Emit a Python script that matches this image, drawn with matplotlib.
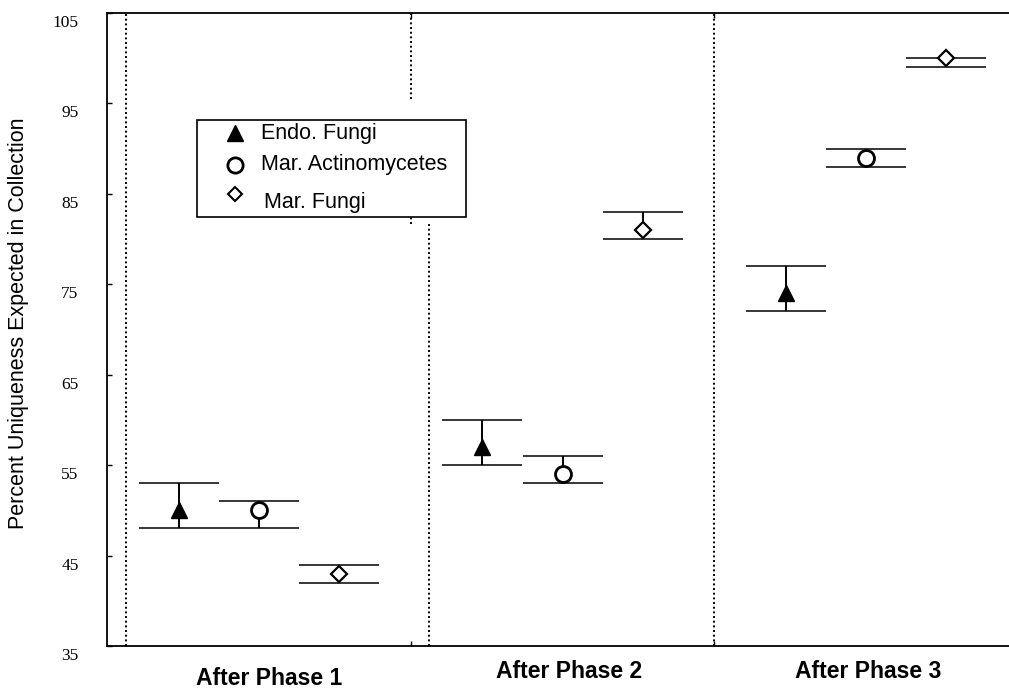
import numpy as np
import matplotlib
matplotlib.use("Agg")
import matplotlib.pyplot as plt
from matplotlib.patches import Rectangle
from matplotlib.transforms import ScaledTranslation

# values (percent uniqueness)
phases = [1, 2, 3]
phase_labels = ["After Phase 1", "After Phase 2", "After Phase 3"]

endo_mean = [50, 57, 74]
endo_low = [48, 55, 72]
endo_high = [53, 60, 77]

act_mean = [50, 54, 89]
act_low = [48, 53, 88]
act_high = [51, 56, 90]

mfun_mean = [43, 81, 100]
mfun_low = [42, 80, 99]
mfun_high = [44, 83, 100]

series_names = ["Endo. Fungi", "Mar. Actinomycetes", "Mar. Fungi"]
yticks = [35, 45, 55, 65, 75, 85, 95, 105]

plt.rcParams['font.family'] = ['Liberation Sans', 'DejaVu Sans']


def draw_series(ax, xs, mean, low, high, marker, ms, mfc, mew):
    mean = np.array(mean)
    yerr = [mean - np.array(low), np.array(high) - mean]
    ax.errorbar(xs, mean, yerr=yerr, fmt='none', ecolor='black',
                elinewidth=1.4, capsize=29, capthick=1.1, zorder=2)
    ax.plot(xs, mean, linestyle='none', marker=marker, markersize=ms,
            markerfacecolor=mfc, markeredgecolor='black',
            markeredgewidth=mew, zorder=3)


def main():
    fig = plt.figure(figsize=(10.09, 6.91), dpi=100)
    ax = fig.add_axes([0.10605, 0.06512, 0.89395, 0.91606])

    off = 0.265
    x = np.array(phases, dtype=float)
    draw_series(ax, x - off, endo_mean, endo_low, endo_high, '^', 12, 'black', 1.0)
    draw_series(ax, x, act_mean, act_low, act_high, 'o', 11.5, 'white', 2.0)
    draw_series(ax, x + off, mfun_mean, mfun_low, mfun_high, 'D', 8.3, 'white', 1.6)

    # dotted separators (the middle one is broken in the original scan)
    dot = dict(color='black', linewidth=1.4, linestyle=(0, (1, 1.4)), zorder=1)
    ax.plot([0.562, 0.562], [35, 105], **dot)
    ax.plot([1.501, 1.501], [95.5, 105], **dot)
    ax.plot([1.501, 1.501], [81.7, 84.0], **dot)
    ax.plot([1.560, 1.560], [35, 81.7], **dot)
    ax.plot([2.499, 2.499], [35, 105], **dot)

    ax.set_xlim(0.4992, 3.471)
    ax.set_ylim(35, 105)
    ax.set_yticks(yticks)
    ax.set_yticklabels([str(v) for v in yticks], family='Liberation Serif', fontsize=12.5)
    ax.set_xticks([1.5, 2.5])
    ax.set_xticklabels([])
    ax.tick_params(axis='y', direction='in', length=3.5, width=1.0, pad=20.5)
    ax.tick_params(axis='x', direction='in', length=3.5, width=1.0, top=True)
    offset = ScaledTranslation(0, -8 / 100, fig.dpi_scale_trans)
    for lab in ax.get_yticklabels():
        lab.set_transform(lab.get_transform() + offset)

    for side in ['left', 'bottom', 'top']:
        ax.spines[side].set_linewidth(1.3)
    ax.spines['right'].set_visible(False)

    ax.set_ylabel("Percent Uniqueness Expected in Collection", fontsize=15.5)
    ax.yaxis.set_label_coords(-0.087, 0.51)

    label_x = [1.033, 2.02, 3.007]
    label_y = [-0.052, -0.0395, -0.0395]
    for lx, ly, txt in zip(label_x, label_y, phase_labels):
        ax.text(lx, ly, txt, transform=ax.get_xaxis_transform(), ha='center',
                va='center', fontsize=16.5, fontweight='bold')

    # legend box drawn by hand to match the scanned layout
    ax.add_patch(Rectangle((0.0998, 0.6777), 0.2982, 0.1533, transform=ax.transAxes,
                           facecolor='white', edgecolor='black', linewidth=1.2, zorder=4))
    leg_marker_y = [0.8104, 0.7599, 0.7140]
    leg_text_y = [0.8104, 0.7599, 0.7014]
    leg_text_x = [0.1707, 0.1707, 0.1740]
    leg_style = [('^', 11, 'black', 1.0), ('o', 11, 'white', 2.0), ('D', 7, 'white', 1.5)]
    for i, name in enumerate(series_names):
        m, ms, fc, ew = leg_style[i]
        ax.plot([0.1419], [leg_marker_y[i]], transform=ax.transAxes, marker=m,
                markersize=ms, markerfacecolor=fc, markeredgecolor='black',
                markeredgewidth=ew, linestyle='none', zorder=5, clip_on=False)
        ax.text(leg_text_x[i], leg_text_y[i], name, transform=ax.transAxes,
                fontsize=15.5, va='center', ha='left', zorder=5)

    fig.savefig("out.png", dpi=100)


if __name__ == '__main__':
    main()
